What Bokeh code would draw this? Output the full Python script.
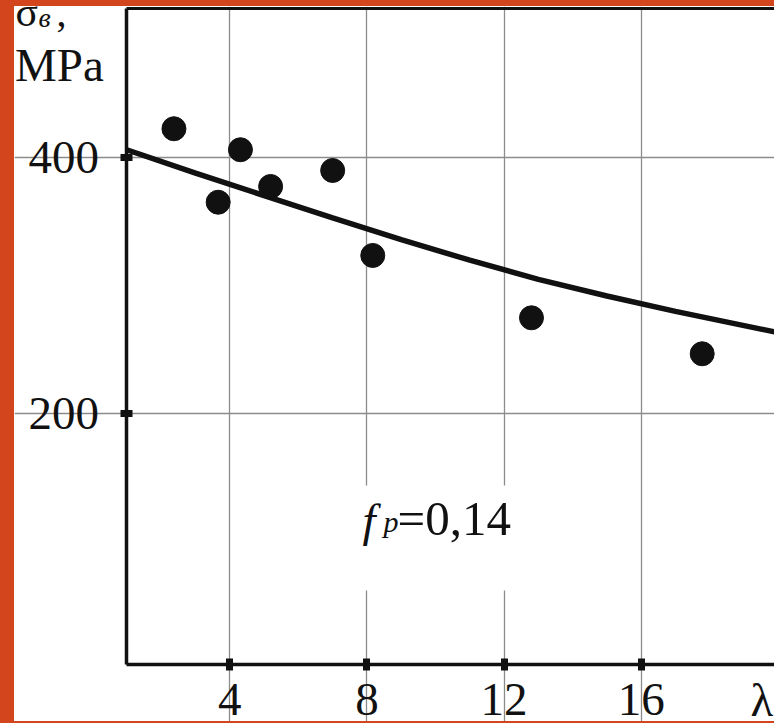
from bokeh.plotting import figure
from bokeh.models import FixedTicker, Label, BoxAnnotation, Div, LinearAxis
from bokeh.layouts import row, column
from bokeh.embed import file_html
from bokeh.resources import INLINE

# ---- data ----
X_TICKS = [4, 8, 12, 16]
X_TICK_LABELS = {4: "4", 8: "8", 12: "12", 16: "16"}
Y_TICKS = [200, 400]

POINTS_X = [2.37, 3.66, 4.31, 5.19, 7.00, 8.17, 12.80, 17.78]
POINTS_Y = [422.7, 365.3, 406.3, 377.6, 390.1, 323.7, 275.0, 246.9]

CURVE_X = [0.97, 3, 5, 7, 9, 11, 13, 15, 17, 19.89]
CURVE_Y = [406.5, 388, 370.5, 353, 336, 320, 305, 292, 280, 264]

# ---- layout (page pixel calibration of the reference) ----
X0_PX, PX_X = 92.2, 34.28      # page x of x=0, pixels per x unit
Y400_PX, PX_Y = 157.3, 1.28    # page y of y=400, pixels per y unit
CANVAS_L, CANVAS_T, CANVAS_W, CANVAS_H = 14, 6, 760, 715
FONT = "Liberation Serif"
INK = "#111111"
ORANGE = "#d2451d"
BASELINE_FIX = 0.4   # em shift observed for label baselines


def px_x(px):
    return (px - X0_PX) / PX_X


def px_y(py):
    return 400 + (Y400_PX - py) / PX_Y


X_LO, X_HI = px_x(CANVAS_L), px_x(CANVAS_L + CANVAS_W)
Y_LO, Y_HI = px_y(CANVAS_T + CANVAS_H), px_y(CANVAS_T)
X_AX = px_x(125.5)   # where the value axis stands
Y_AX = px_y(664)     # where the lambda axis stands
Y_TOP = px_y(7.5)    # top frame line

p = figure(width=CANVAS_W, height=CANVAS_H, x_range=(X_LO, X_HI), y_range=(Y_LO, Y_HI),
           output_backend="svg", toolbar_location=None,
           min_border_left=0, min_border_right=0, min_border_top=0, min_border_bottom=0,
           outline_line_color=None, background_fill_color="white", border_fill_color="white")

xt = FixedTicker(ticks=X_TICKS)
yt = FixedTicker(ticks=Y_TICKS)
p.xaxis.ticker = xt
p.yaxis.ticker = yt
p.xgrid.ticker = xt
p.ygrid.ticker = yt
p.xaxis.fixed_location = Y_AX
p.yaxis.fixed_location = X_AX
p.xaxis.bounds = (X_AX, X_HI)
p.yaxis.bounds = (Y_AX, Y_TOP)
p.xgrid.bounds = (Y_AX, Y_TOP)
p.ygrid.bounds = (X_AX, X_HI)
p.xaxis.major_label_overrides = X_TICK_LABELS

p.axis.axis_line_width = 3.5
p.axis.axis_line_color = INK
p.axis.major_tick_line_width = 7
p.axis.major_tick_line_color = INK
p.axis.major_tick_in = 6
p.axis.major_tick_out = 6
p.axis.minor_tick_line_color = None
p.axis.major_label_text_font = FONT
p.axis.major_label_text_font_size = "47px"
p.axis.major_label_text_color = INK
p.yaxis.major_label_standoff = 21
p.xaxis.major_label_standoff = 13
p.grid.grid_line_color = "#8c8c8c"
p.grid.grid_line_width = 1.3

# top frame line as an extra axis without ticks
top = LinearAxis(fixed_location=Y_TOP, ticker=FixedTicker(ticks=[]), bounds=(X_AX, X_HI),
                 axis_line_width=3, axis_line_color=INK, major_tick_line_color=None,
                 minor_tick_line_color=None, major_label_text_font_size="0px")
p.add_layout(top, "above")

# white mask behind the annotation text
p.add_layout(BoxAnnotation(left=px_x(340), right=px_x(530), bottom=px_y(590), top=px_y(485),
                           fill_color="white", fill_alpha=1.0, line_color=None))

p.line(CURVE_X, CURVE_Y, line_width=5.5, line_color=INK)
p.scatter(POINTS_X, POINTS_Y, size=24, fill_color=INK, line_color=INK)


def lab(text, px, py, size, style="normal", align="left"):
    p.add_layout(Label(x=px_x(px), y=px_y(py), y_offset=BASELINE_FIX * size, text=text,
                       text_font=FONT, text_font_size=f"{size}px", text_font_style=style,
                       text_color=INK, text_align=align, text_baseline="alphabetic"))


# axis symbol
lab("λ", 750, 718, 47)

# value axis title
lab("σ", 15, 28.5, 42)
lab("в", 38, 28.5, 28, style="italic")
lab(",", 56, 28.5, 40)
lab("MPa", 14.5, 83, 47)

# annotation f_p = 0,14
lab("f", 362, 538, 47, style="italic")
lab("p", 383, 533, 30, style="italic")
lab("=0,14", 397, 538, 49)

top_strip = Div(text="", width=774, height=CANVAS_T, margin=0, styles={"background-color": ORANGE})
left_strip = Div(text="", width=CANVAS_L, height=CANVAS_H, margin=0, styles={"background-color": ORANGE})
bottom_strip = Div(text="", width=774, height=2, margin=0, styles={"background-color": ORANGE})
layout = column(top_strip, row(left_strip, p, spacing=0), bottom_strip, spacing=0)

open("out.html", "w").write(file_html(layout, INLINE))
